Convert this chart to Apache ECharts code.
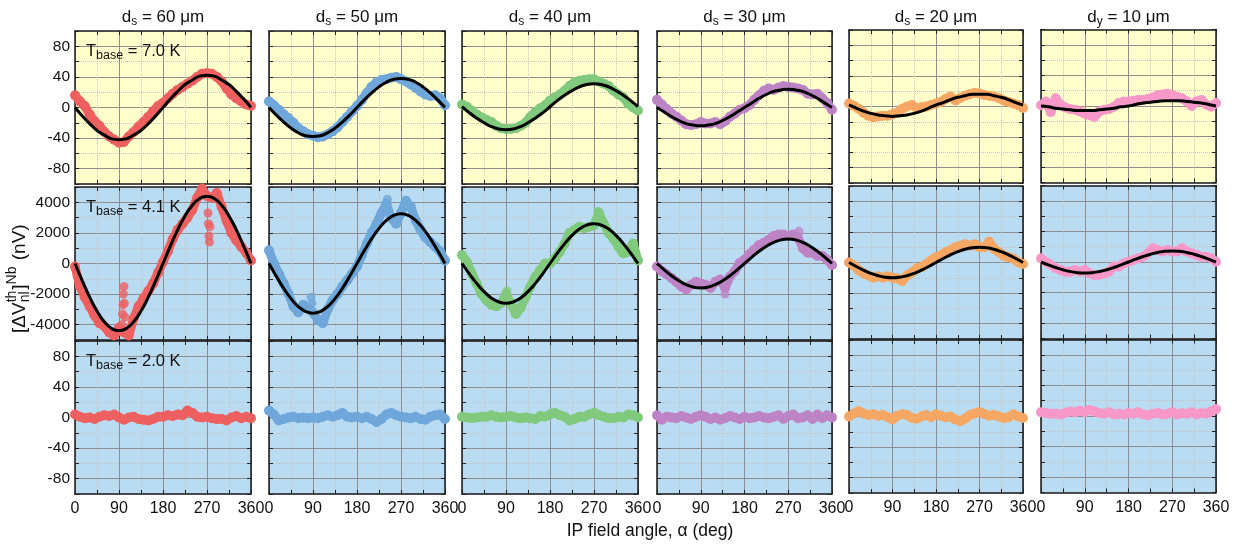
<!DOCTYPE html>
<html>
<head>
<meta charset="utf-8">
<script src="https://cdn.jsdelivr.net/npm/echarts@6/dist/echarts.min.js"></script>
<style>
  html, body { margin: 0; padding: 0; background: #fff; }
  #chart { width: 1241px; height: 546px; }
</style>
</head>
<body>
<div id="chart"></div>
<script>
// angles of the measured points and of the fitted curves (deg)
var angles = [0,10,20,30,40,50,60,70,80,90,100,110,120,130,140,150,160,170,180,190,200,210,220,230,240,250,260,270,280,290,300,310,320,330,340,350,360];
var fitAngles = [0,15,30,45,60,75,90,105,120,135,150,165,180,195,210,225,240,255,270,285,300,315,330,345,360];

var sizes = ['60', '50', '40', '30', '20', '10'];
var sizeSub = ['s', 's', 's', 's', 's', 'y'];
var temps = ['7.0', '4.1', '2.0'];
var xLabels = [0, 90, 180, 270, 360];
var yLabelsSmall = [80, 40, 0, -40, -80];
var yLabelsLarge = [4000, 2000, 0, -2000, -4000];

// T = 7.0 K, one array per strip width (nV)
var scan70 = [
  [16,8,2,-9,-18,-24,-32,-38,-42,-46,-45,-38,-32,-25,-19,-12,-5,2,6,12,18,23,27,31,35,40,44,45,44,40,34,25,17,12,8,4,2],
  [8,3,-3,-9,-14,-20,-27,-31,-35,-37,-39,-38,-35,-31,-26,-19,-12,-5,2,10,19,27,33,36,37,39,40,37,34,30,26,21,17,15,16,12,3],
  [4,1,-4,-9,-13,-16,-19,-24,-27,-28,-28,-27,-24,-20,-12,-6,-1,3,9,13,17,22,28,33,35,36,37,37,34,31,28,22,17,13,5,0,-4],
  [10,4,-2,-8,-12,-17,-22,-23,-22,-19,-21,-21,-19,-22,-18,-12,-8,-3,-1,3,10,16,22,25,23,26,28,27,26,25,23,18,17,18,12,6,-3],
  [4,1,-3,-8,-12,-14,-13,-12,-12,-10,-8,-3,0,2,-2,-1,0,2,4,6,10,13,8,11,14,16,18,17,15,14,13,11,8,6,4,2,-2],
  [1,6,-8,10,2,-2,-4,-5,-7,-10,-12,-14,-7,-5,-4,-1,4,6,6,7,8,8,9,11,14,15,16,14,12,10,6,0,6,8,2,-1,4]
];
var fit70 = [
  [0,-11,-21,-30,-36,-41,-42,-41,-36,-30,-21,-11,0,11,21,30,36,41,42,41,36,30,21,11,0],
  [0,-10,-19,-27,-33,-37,-38,-37,-33,-27,-19,-10,0,10,19,27,33,37,38,37,33,27,19,10,0],
  [1,-7,-14,-20,-25,-28,-29,-28,-25,-20,-14,-7,1,9,16,22,27,30,31,30,27,22,16,9,1],
  [0,-6,-12,-17,-21,-23,-24,-23,-21,-17,-12,-6,0,6,12,17,21,23,24,23,21,17,12,6,0],
  [2,-2,-6,-9,-11,-12,-13,-12,-11,-9,-6,-2,2,5,9,12,14,16,16,16,14,12,9,5,2],
  [0,-1,-3,-4,-5,-6,-6,-6,-5,-4,-3,-1,0,2,4,5,6,7,7,7,6,5,4,2,0]
];

// T = 4.1 K (nV)
var scan41 = [
  [-200,-1500,-2200,-2800,-3400,-3900,-4100,-4500,-4700,-4200,-4500,-4700,-3600,-2800,-2300,-1800,-1300,-600,100,800,1600,2200,2600,3000,3500,4300,4900,4400,4300,4600,3700,2800,2000,1500,1100,700,200],
  [870,0,-650,-1300,-2000,-2800,-3200,-2700,-2900,-3200,-3700,-3900,-3000,-2400,-2000,-1500,-1100,-650,-200,550,1300,2000,2600,3300,3900,3000,2600,3300,4100,3700,2800,2200,1700,1400,1100,800,200],
  [550,100,-650,-1300,-2000,-2400,-2700,-2800,-2600,-2000,-2600,-3300,-2900,-2200,-1500,-870,-430,0,0,330,760,1300,2000,2200,2400,2300,2400,2500,3300,2600,2000,1600,1100,650,760,1300,200],
  [-200,-500,-700,-950,-1200,-1500,-1700,-1400,-1200,-1300,-1400,-1600,-1200,-1050,-1600,-850,-500,30,250,600,900,1200,1350,1550,1800,1900,1900,1800,1900,1700,1000,700,700,500,500,250,-100],
  [0,-200,-500,-700,-850,-1000,-900,-1000,-900,-1000,-1050,-1200,-850,-650,-400,-300,-100,130,350,450,680,800,1000,1100,1200,1100,1200,1000,1000,1350,900,680,450,350,250,20,-100],
  [240,20,-200,-400,-520,-640,-640,-520,-640,-520,-750,-850,-850,-750,-640,-300,-300,-90,20,130,240,350,570,900,790,680,790,680,680,900,680,570,460,350,350,240,20]
];
var fit41 = [
  [0,-1139,-2200,-3111,-3811,-4250,-4400,-4250,-3811,-3111,-2200,-1139,0,1139,2200,3111,3811,4250,4400,4250,3811,3111,2200,1139,0],
  [0,-841,-1625,-2298,-2815,-3139,-3250,-3139,-2815,-2298,-1625,-841,0,841,1625,2298,2815,3139,3250,3139,2815,2298,1625,841,0],
  [0,-673,-1300,-1838,-2252,-2511,-2600,-2511,-2252,-1838,-1300,-673,0,673,1300,1838,2252,2511,2600,2511,2252,1838,1300,673,0],
  [0,-414,-800,-1131,-1386,-1545,-1600,-1545,-1386,-1131,-800,-414,0,414,800,1131,1386,1545,1600,1545,1386,1131,800,414,0],
  [0,-259,-500,-707,-866,-966,-1000,-966,-866,-707,-500,-259,0,259,500,707,866,966,1000,966,866,707,500,259,0],
  [0,-186,-360,-509,-624,-695,-720,-695,-624,-509,-360,-186,0,186,360,509,624,695,720,695,624,509,360,186,0]
];
// isolated excursions in the 4.1 K scans: [angle, value, column]
var spikes41 = [
  [96,-4000,0],[97,-3300,0],[98,-2700,0],[99,-2000,0],[100,-1500,0],[101,-2600,0],[102,-3500,0],
  [271,4400,0],[272,3300,0],[273,2600,0],[274,1800,0],[275,1400,0],[276,2400,0],
  [88,-2600,1],[86,-2200,1],[242,4200,1],
  [92,-1800,2],[278,3400,2],
  [140,-2000,3],[292,2100,3]
];

// T = 2.0 K (nV)
var scan20 = [
  [4,1,-1,0,-2,1,3,2,4,0,-3,0,1,-2,-3,-4,-2,1,1,3,2,4,3,9,6,1,0,1,-1,-2,-2,-4,0,2,-1,1,-1],
  [9,4,-4,-2,0,1,-1,0,-1,0,-1,1,3,1,3,6,1,0,1,-1,1,-2,-6,-2,4,6,3,1,0,-1,1,-2,-3,1,3,4,-2],
  [1,0,-1,0,1,1,3,1,0,1,2,0,-1,0,-1,-2,2,1,4,6,3,1,-4,-2,1,1,4,6,3,1,-1,-1,1,0,4,3,0],
  [3,-3,1,0,-1,2,0,-2,1,3,1,-2,0,-3,-1,2,0,-2,1,-1,0,2,0,-1,1,3,-2,2,4,-1,0,3,-2,4,-1,3,0],
  [0,4,7,4,2,3,1,2,-1,-4,1,3,2,-2,-3,0,2,-1,3,1,-1,0,-4,-6,-3,2,4,6,3,1,2,0,-2,-1,3,0,-2],
  [5,4,3,3,2,4,6,5,7,5,8,6,4,3,5,2,3,2,4,3,5,2,1,3,4,2,3,5,2,4,3,5,2,4,3,6,9]
];

var colors = ['#ee6060', '#6fa7da', '#80c97d', '#bd84c5', '#f5a763', '#f798c9'];
var rowBg = ['#ffffcc', '#badcf2', '#badcf2'];
var rowScans = [scan70, scan41, scan20];
var rowFits = [fit70, fit41, null];
var rowRange = [[-100, 100, 20], [-5000, 5000, 1000], [-100, 100, 20]];
var rowYLabels = [yLabelsSmall, yLabelsLarge, yLabelsSmall];

// panel layout (px)
var colLeft = [75, 269, 462, 657, 849, 1041];
var colW = [176, 176, 176, 175, 174, 175];
var colShift = [0, 0, 0, 0, -1, -1.5];
var rowTop = [31, 187, 341];
var rowH = 153;

var FF = '"Liberation Sans", Arial, Helvetica, sans-serif';
var TXT = '#111';

var grids = [], xAxes = [], yAxes = [], series = [];

function pairs(xs, ys) {
  return xs.map(function (x, i) { return [x, ys[i]]; });
}

for (var r = 0; r < 3; r++) {
  for (var c = 0; c < 6; c++) {
    var gi = grids.length;
    var rg = rowRange[r];
    grids.push({
      left: colLeft[c], top: rowTop[r] + colShift[c], width: colW[c], height: rowH,
      show: true, backgroundColor: rowBg[r], borderWidth: 0
    });

    var edge = { show: true, onZero: false, lineStyle: { color: '#1a1a1a', width: 1.5 } };
    var tick = { show: true, inside: true, length: 4, lineStyle: { color: '#222', width: 1 } };

    // bottom axis: labels + major/minor grid
    xAxes.push({
      gridIndex: gi, type: 'value', position: 'bottom', min: 0, max: 360, interval: 90,
      axisLine: edge, axisTick: tick,
      minorTick: { show: true, splitNumber: 2, length: 4, lineStyle: { color: '#222' } },
      axisLabel: {
        show: r === 2, fontSize: 16, color: TXT, fontFamily: FF, margin: 7,
        formatter: function (v) { return xLabels.indexOf(v) >= 0 ? String(v) : ''; }
      },
      splitLine: { show: true, lineStyle: { color: '#8e8e8e', width: 1 } },
      minorSplitLine: { show: true, lineStyle: { color: '#c4c4c4', width: 1, type: 'dotted' } }
    });
    // top axis: ticks only
    xAxes.push({
      gridIndex: gi, type: 'value', position: 'top', min: 0, max: 360, interval: 90,
      axisLine: edge, axisTick: tick,
      minorTick: { show: true, splitNumber: 2, length: 4, lineStyle: { color: '#222' } },
      axisLabel: { show: false }, splitLine: { show: false }
    });

    var labs = rowYLabels[r];
    // left axis: labels, ticks, minor dotted lines
    yAxes.push({
      gridIndex: gi, type: 'value', position: 'left', min: rg[0], max: rg[1], interval: rg[2],
      axisLine: edge, axisTick: tick,
      axisLabel: {
        show: c === 0, fontSize: 15.5, color: TXT, fontFamily: FF, margin: 5,
        formatter: (function (l) {
          return function (v) { return l.indexOf(v) >= 0 ? String(v) : ''; };
        })(labs)
      },
      splitLine: { show: true, lineStyle: { color: ['#c4c4c4', 'rgba(0,0,0,0)'], width: 1, type: 'dotted' } }
    });
    // left axis copy: solid major lines
    yAxes.push({
      gridIndex: gi, type: 'value', position: 'left', min: rg[0], max: rg[1], interval: rg[2],
      axisLine: { show: false }, axisTick: { show: false }, axisLabel: { show: false },
      splitLine: { show: true, lineStyle: { color: ['rgba(0,0,0,0)', '#8e8e8e'], width: 1 } }
    });
    // right axis: ticks only
    yAxes.push({
      gridIndex: gi, type: 'value', position: 'right', min: rg[0], max: rg[1], interval: rg[2],
      axisLine: edge, axisTick: tick, axisLabel: { show: false }, splitLine: { show: false }
    });

    var xi = 2 * gi, yi = 3 * gi;
    series.push({
      type: 'line', xAxisIndex: xi, yAxisIndex: yi,
      data: pairs(angles, rowScans[r][c]),
      symbol: 'circle', symbolSize: 10, showSymbol: true,
      itemStyle: { color: colors[c] },
      lineStyle: { color: colors[c], width: 9 },
      silent: true, animation: false, z: 2
    });
    if (r === 1) {
      var sp = spikes41.filter(function (p) { return p[2] === c; })
                        .map(function (p) { return [p[0], p[1]]; });
      if (sp.length) {
        series.push({
          type: 'scatter', xAxisIndex: xi, yAxisIndex: yi, data: sp,
          symbol: 'circle', symbolSize: 9, itemStyle: { color: colors[c] },
          silent: true, animation: false, z: 2
        });
      }
    }
    if (rowFits[r]) {
      series.push({
        type: 'line', xAxisIndex: xi, yAxisIndex: yi,
        data: pairs(fitAngles, rowFits[r][c]),
        smooth: true, symbol: 'none',
        lineStyle: { color: '#000', width: 3 },
        silent: true, animation: false, z: 3
      });
    }
  }
}

// text measuring for the composite y-axis name
var ctx = document.createElement('canvas').getContext('2d');
function tw(t, size) { ctx.font = size + 'px ' + FF; return ctx.measureText(t).width; }

var graphics = [];
var richBase = function (main, sub, subOff) {
  return {
    m: { fontSize: main, fontFamily: FF, fill: TXT, lineHeight: 22, verticalAlign: 'middle' },
    s: { fontSize: sub, fontFamily: FF, fill: TXT, lineHeight: 22, verticalAlign: 'middle', padding: [subOff, 0, 0, 0] }
  };
};

for (var c2 = 0; c2 < 6; c2++) {
  graphics.push({
    type: 'text', x: colLeft[c2] + colW[c2] / 2, y: 17, z: 10,
    style: {
      text: '{m|d}{s|' + sizeSub[c2] + '}{m| = ' + sizes[c2] + ' \u03bcm}',
      rich: richBase(17, 12, 10),
      align: 'center', textAlign: 'center', verticalAlign: 'middle', textVerticalAlign: 'middle'
    }
  });
}
for (var r2 = 0; r2 < 3; r2++) {
  graphics.push({
    type: 'text', x: 86, y: rowTop[r2] + 20, z: 10,
    style: {
      text: '{m|T}{s|base}{m| = ' + temps[r2] + ' K}',
      rich: richBase(16.5, 12.5, 10),
      align: 'left', textAlign: 'left', verticalAlign: 'middle', textVerticalAlign: 'middle'
    }
  });
}

graphics.push({
  type: 'text', x: 650, y: 531, z: 10,
  style: {
    text: 'IP field angle, \u03b1 (deg)', fontSize: 17.5, fontFamily: FF, fill: TXT,
    align: 'center', textAlign: 'center', verticalAlign: 'middle', textVerticalAlign: 'middle'
  }
});

// y-axis name: [ΔV^th_nl]^Nb (nV), rotated
var YM = 19, YS = 14;
var m0 = '[\u0394V', x1 = tw(m0, YM);
var x2 = x1 + Math.max(tw('th', YS), tw('nl', YS)) + 1;
var x3 = x2 + tw(']', YM);
var x4 = x3 + tw('Nb', YS) + 1;
function ytxt(t, x, y, size) {
  return {
    type: 'text', x: x, y: y,
    style: { text: t, fontSize: size, fontFamily: FF, fill: TXT,
      align: 'left', textAlign: 'left', verticalAlign: 'middle', textVerticalAlign: 'middle' }
  };
}
graphics.push({
  type: 'group', x: 20, y: 333, rotation: Math.PI / 2, z: 10,
  children: [
    ytxt(m0, 0, 0, YM),
    ytxt('th', x1, -7.5, YS),
    ytxt('nl', x1, 5.5, YS),
    ytxt(']', x2, 0, YM),
    ytxt('Nb', x3, -7.5, YS),
    ytxt(' (nV)', x4, 0, YM)
  ]
});

var chart = echarts.init(document.getElementById('chart'));
chart.setOption({
  animation: false,
  backgroundColor: '#ffffff',
  grid: grids,
  xAxis: xAxes,
  yAxis: yAxes,
  series: series,
  graphic: graphics
});
</script>
</body>
</html>
